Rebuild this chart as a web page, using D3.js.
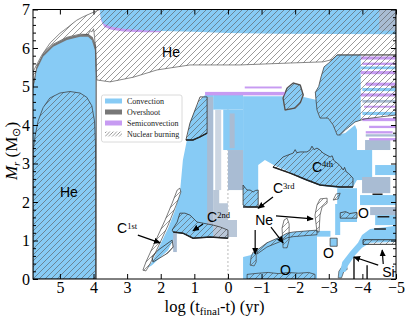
<!DOCTYPE html>
<html><head><meta charset="utf-8">
<script src="https://cdn.jsdelivr.net/npm/d3@7/dist/d3.min.js"></script>
<style>html,body{margin:0;padding:0;background:#fff}svg{display:block}</style>
</head><body>
<svg id="chart" width="409" height="318"></svg>
<script>
// ================= DATA (x = log(t_final - t) [yr], y = M_r [Msun]) =================
const xTicks = [5,4,3,2,1,0,-1,-2,-3,-4,-5];
const yTicks = [0,1,2,3,4,5,6,7];
const yMinor = d3.range(1,35).map(i=>i/5).filter(v=>Math.abs(v-Math.round(v))>1e-6);

// convective regions
const heCoreOver = [[5.8,5.0],[5.69,5.5],[5.5,5.84],[5.2,6.09],[4.79,6.27],[4.4,6.35],[4.16,6.37],[4.02,6.28],[3.92,6.05],[3.9,5.6],[3.9,0],[5.8,0]];
const heCoreConv = [[5.8,4.9],[5.69,5.43],[5.5,5.77],[5.2,6.03],[4.79,6.21],[4.4,6.29],[4.16,6.29],[4.05,6.2],[3.96,5.95],[3.94,5.5],[3.94,0],[5.8,0]];
const topSemi = [[3.81,7.0],[3.77,6.7],[3.68,6.55],[3.5,6.48],[3.12,6.43],[2.5,6.41],[2.0,6.41],[2.0,6.45],[3.5,6.6],[3.81,6.9]];
const topConv = [[3.81,7.0],[3.79,6.8],[3.72,6.64],[3.5,6.56],[3.12,6.5],[2.5,6.46],[2.0,6.44],[1.0,6.42],[0,6.39],[-1.5,6.37],[-5,6.36],[-5,7]];
const rightConv = [[-3.25,5.82],[-3.0,5.61],[-2.86,5.51],[-2.77,5.25],[-2.7,5.0],[-2.6,4.85],[-2.62,4.65],[-2.65,4.39],[-2.74,4.18],[-2.98,4.18],[-3.13,4.0],[-3.25,3.74],[-3.34,3.74],[-3.49,3.87],[-3.78,4.08],[-3.95,4.12],[-3.95,5.82]];
const shellConvA = [[2.38,0.29],[2.26,0.44],[2.02,0.88],[1.78,1.32],[1.57,1.79],[1.43,2.23],[1.34,3.09],[1.22,3.61],[1.13,4.05],[0.98,4.39],[0.83,4.65],[0.68,4.78],[0.44,4.78],[0.44,1.40],[0.23,1.35],[0,1.27],[0,1.06],[0.53,1.09],[1.04,1.06],[1.34,1.17],[1.54,1.19],[1.63,1.01],[1.78,0.75],[2.02,0.55],[2.26,0.36]];
const shellConvB = [[-0.45,4.75],[-2.15,4.75],[-2.65,4.65],[-2.65,4.39],[-2.74,4.18],[-2.98,4.18],[-3.13,4.0],[-3.25,3.74],[-3.49,3.79],[-3.78,4.0],[-3.84,3.87],[-3.84,2.57],[-3.72,2.39],[-3.34,2.36],[-2.74,2.42],[-2.15,2.62],[-1.76,2.81],[-1.40,2.94],[-1.10,3.09],[-0.90,2.96],[-0.90,1.87],[-0.45,1.87]];
const oConv = [[-0.45,0],[-0.45,0.57],[-0.66,0.62],[-0.87,0.75],[-1.16,0.94],[-1.55,1.09],[-1.76,1.19],[-1.94,1.22],[-2.65,1.27],[-2.65,0]];
const o2Conv = [[-3.25,2.36],[-3.84,2.36],[-3.84,1.48],[-3.34,1.48],[-3.34,1.14],[-3.19,1.14],[-3.19,1.95],[-3.25,1.95]];
const o3Conv = [[-3.04,1.06],[-3.25,1.06],[-3.25,0.85],[-3.04,0.85]];
const o4Conv = [[-3.28,0.03],[-3.3,0.2],[-3.4,0.33],[-3.52,0.36],[-3.55,0.25],[-3.45,0.2],[-3.38,0.03]];
const siConv = [[-3.34,0.18],[-3.40,0.44],[-3.63,0.70],[-3.87,0.94],[-3.99,1.14],[-4.23,1.30],[-5,1.38],[-5,0.96],[-4.23,0.94],[-3.99,0.81],[-3.78,0.62],[-3.58,0.36],[-3.49,0.18]];
const midBurnSmall = [[-1.70,4.39],[-1.64,4.70],[-1.76,4.96],[-1.94,5.09],[-2.15,5.04],[-2.24,4.78],[-2.15,4.57],[-2.0,4.44]];
// rectangles [t0, t1, m0, m1]
const convRects = [[0.44,-0.45,4.40,4.78],[0.14,-0.45,3.35,4.40],[-2.65,-3.05,1.10,1.25],[-4.38,-5,2.70,2.96],[-3.93,-5,1.92,2.18],[-4.38,-5,1.40,1.66],[-3.84,-4.29,2.57,3.35],[-3.95,-5,5.45,5.52],[-4.0,-5,4.88,4.96],[-4.0,-5,4.26,4.34]];
const overLightRects = [[0.62,0.44,1.40,4.73],[0.0,-0.45,2.31,3.35],[1.63,1.52,0.70,1.20],[-4.08,-4.83,3.35,3.61],[-3.99,-4.83,2.23,2.65],[-4.23,-5,1.66,1.87],[-4.5,-5,6.45,7.0],[-4.0,-5,4.58,4.65],[-4.1,-5,3.70,3.76],[-0.05,-0.2,3.4,4.3]];
const overPaleRects = [[0.38,0.2,2.31,4.39]];
const c2Over = [[0.44,2.31],[0.26,2.31],[0.26,1.97],[0.0,1.97],[0.0,1.53],[-0.27,1.53],[-0.27,1.09],[0.44,1.09]];
const semiRects = [[0.68,-1.7,4.77,4.86],[-0.5,-1.6,4.95,5.0],[-3.95,-5,5.70,5.78],[-4.0,-5,5.56,5.62],[-3.95,-5,5.32,5.40],[-4.1,-5,5.02,5.10],[-3.95,-5,4.74,4.82],[-4.05,-5,4.45,4.50],[-4.0,-5,4.10,4.18],[-4.2,-5,3.92,3.98],[-4.1,-4.9,3.78,3.84],[-4.2,-5,3.60,3.66]];

// nuclear burning regions
const heCoreBurn = [[5.8,3.3],[5.74,3.7],[5.65,4.1],[5.5,4.45],[5.3,4.7],[5.0,4.83],[4.7,4.87],[4.4,4.83],[4.2,4.72],[4.05,4.5],[3.97,4.1],[3.94,3.5],[3.94,0],[5.8,0]];
const heShellBurn = [[5.8,5.38],[5.55,5.8],[5.29,6.13],[5.0,6.38],[4.79,6.52],[4.5,6.72],[4.31,6.81],[4.0,6.93],[3.81,7.0],[-5,7],[-5,5.82],[-3.25,5.82],[-3.1,5.7],[-2.83,5.64],[-1.85,5.61],[-0.36,5.56],[1.13,5.56],[2.11,5.43],[2.82,5.24],[3.51,5.12],[3.9,5.17],[3.93,5.5],[3.94,5.95],[3.97,6.3],[4.0,6.5],[4.05,6.42],[4.1,6.45],[4.16,6.35],[4.4,6.36],[4.79,6.28],[5.2,6.1],[5.5,5.84],[5.69,5.5],[5.8,5.0]];
const rightBurn = [[-3.25,5.82],[-3.0,5.61],[-2.86,5.51],[-2.77,5.25],[-2.7,5.0],[-2.6,4.85],[-2.62,4.65],[-2.65,4.39],[-2.74,4.18],[-2.98,4.18],[-3.13,4.0],[-3.25,3.74],[-3.34,3.74],[-3.49,3.87],[-3.78,4.08],[-4.08,4.16],[-5,4.26],[-5,5.82]];
const cTopBurn = [[0.83,4.73],[0.98,4.39],[1.13,4.05],[1.25,3.61],[1.04,3.61],[0.83,3.69],[0.62,3.79],[0.62,4.73]];
const c1Sliver = [[2.53,0.23],[2.44,0.44],[2.17,0.96],[1.87,1.53],[1.66,1.97],[1.51,2.31],[1.43,2.36],[1.40,2.26],[1.54,1.92],[1.78,1.40],[2.08,0.83],[2.32,0.39],[2.44,0.21]];
const c1Burn = [[2.26,0.57],[2.08,0.75],[1.87,0.88],[1.66,1.01],[1.63,0.83],[1.78,0.68],[2.02,0.55],[2.23,0.44]];
const c2Burn = [[1.66,1.27],[1.51,1.48],[1.43,1.71],[1.28,1.71],[1.13,1.66],[0.92,1.48],[0.74,1.45],[0.44,1.40],[0.23,1.35],[0,1.27],[0,1.06],[0.53,1.09],[1.04,1.06],[1.34,1.19],[1.63,1.22]];
const c3Burn = [[-0.45,2.44],[-0.52,2.36],[-0.57,2.31],[-0.66,2.31],[-0.75,2.26],[-0.82,2.3],[-0.90,2.31],[-0.90,1.87],[-0.57,1.87],[-0.45,1.92]];
const c4Burn = [[-1.34,2.91],[-1.55,3.09],[-1.64,3.17],[-1.79,3.22],[-1.94,3.27],[-2.0,3.36],[-2.05,3.28],[-2.15,3.30],[-2.35,3.30],[-2.44,3.35],[-2.5,3.45],[-2.56,3.36],[-2.65,3.40],[-2.74,3.35],[-2.83,3.27],[-3.04,3.17],[-3.1,3.2],[-3.15,3.08],[-3.25,3.01],[-3.34,2.94],[-3.43,2.83],[-3.47,2.9],[-3.52,2.78],[-3.58,2.75],[-3.72,2.62],[-3.72,2.39],[-3.34,2.39],[-2.74,2.44],[-2.35,2.57],[-1.85,2.75]];
const neA = [[-0.66,0.36],[-0.69,0.57],[-0.75,0.70],[-0.84,0.68],[-0.84,0.44],[-0.78,0.34]];
const neB = [[-1.64,0.81],[-1.61,1.32],[-1.67,1.53],[-1.76,1.58],[-1.82,1.43],[-1.82,1.01],[-1.76,0.81]];
const neC = [[-2.65,1.22],[-2.59,1.66],[-2.65,1.92],[-2.74,2.08],[-2.95,2.10],[-2.95,1.97],[-2.80,1.87],[-2.74,1.66],[-2.71,1.22]];
const neD = [[-3.13,2.05],[-3.22,2.21],[-3.34,2.23],[-3.28,2.08]];
const oTopBurn = [[-0.87,0.75],[-1.16,0.94],[-1.55,1.09],[-1.76,1.19],[-1.94,1.22],[-2.65,1.27],[-2.65,1.15],[-1.94,1.1],[-1.76,1.07],[-1.55,0.97],[-1.16,0.83],[-0.87,0.65]];
const oBotBurn = [[-0.57,0],[-0.57,0.12],[-0.9,0.15],[-1.2,0.17],[-1.5,0.14],[-1.8,0.17],[-2.1,0.15],[-2.4,0.17],[-2.59,0.12],[-2.59,0]];
const o2Burn = [[-3.34,1.72],[-3.5,1.75],[-3.62,1.70],[-3.84,1.73],[-3.84,1.58],[-3.34,1.58]];
const siBurn = [[-4.02,1.02],[-5,1.02],[-5,0.9],[-4.02,0.9]];
// heavy boundary lines
const darkLines = [
  [[1.63,1.22],[1.34,1.19],[1.04,1.06],[0.53,1.09],[0,1.06]],
  [[-0.45,1.87],[-0.9,1.87]],
  [[-1.34,2.91],[-1.85,2.75],[-2.35,2.57],[-2.74,2.44],[-3.34,2.39],[-3.72,2.39]],
  [[1.25,3.61],[1.04,3.61],[0.83,3.69],[0.62,3.79]],
  [[-3.75,0],[-3.75,0.57]],[[-4.14,0],[-4.14,0.36]],
  [[-4.35,1.30],[-4.7,1.30]],[[-4.45,1.62],[-4.8,1.62]],[[-4.3,2.2],[-4.6,2.2]]
];
// annotations
const regionLabels = [
  {text:'He',t:1.96,m:5.77},{text:'He',t:5.0,m:2.13},
  {text:'C',sup:'1st',t:3.3,m:1.19},{text:'C',sup:'2nd',t:0.62,m:1.48},
  {text:'C',sup:'3rd',t:-1.34,m:2.23},{text:'C',sup:'4th',t:-2.50,m:2.78},
  {text:'Ne',t:-0.81,m:1.40},{text:'O',t:-3.87,m:1.58},{text:'O',t:-2.83,m:0.55},
  {text:'O',t:-1.55,m:0.10},{text:'Si',t:-4.59,m:0.05}
];
const arrows = [[2.68,1.14,2.02,0.94],[0.74,1.43,1.04,1.25],[-1.34,2.13,-0.90,1.84],[-1.43,1.64,-2.53,1.56],[-0.81,1.27,-0.81,0.65],[-1.28,1.35,-1.64,0.94],[-4.47,0.36,-3.75,0.57],[-4.62,0.39,-4.59,0.75]];
const legendItems = [['Convection','conv'],['Overshoot','over'],['Semiconvection','semi'],['Nuclear burning','burn']];

// ================= STYLE =================
const CONV='#87cbf5', OVER='#777777', SEMI='#c79bf2', LOVER='#a9bcd3', PALE='#ccd6e2';
const L=33, R=396, T=9.5, B=279;
const x=d3.scaleLinear().domain([5.8,-5]).range([L,R]);
const y=d3.scaleLinear().domain([0,7]).range([B,T]);

const svg=d3.select('#chart');
const defs=svg.append('defs');
defs.append('clipPath').attr('id','clip').append('rect').attr('x',L).attr('y',T).attr('width',R-L).attr('height',B-T);
const pat=defs.append('pattern').attr('id','hatch').attr('patternUnits','userSpaceOnUse').attr('width',6).attr('height',6);
pat.append('path').attr('d','M-1,1 l2,-2 M0,6 l6,-6 M5,7 l2,-2').attr('stroke','#555').attr('stroke-width',0.6);
const patL=defs.append('pattern').attr('id','hatchL').attr('patternUnits','userSpaceOnUse').attr('width',3.5).attr('height',3.5);
patL.append('path').attr('d','M-1,1 l2,-2 M0,3.5 l3.5,-3.5 M2.5,4.5 l2,-2').attr('stroke','#555').attr('stroke-width',0.6);
defs.append('marker').attr('id','arr').attr('viewBox','0 0 8 8').attr('refX',7).attr('refY',4)
  .attr('markerWidth',7).attr('markerHeight',7).attr('markerUnits','userSpaceOnUse').attr('orient','auto')
  .append('path').attr('d','M0,0.5 L8,4 L0,7.5 z').attr('fill','#000');

const g=svg.append('g').attr('clip-path','url(#clip)');
const line=d3.line().x(d=>x(d[0])).y(d=>y(d[1]));
function poly(pts,fill,stroke,sw){g.append('path').attr('d',line(pts)+'Z').attr('fill',fill).attr('stroke',stroke||'none').attr('stroke-width',sw||0).attr('stroke-linejoin','round');}
function rects(list,fill){list.forEach(r=>{const x0=Math.min(x(r[0]),x(r[1])),x1=Math.max(x(r[0]),x(r[1]));
  g.append('rect').attr('x',x0).attr('width',x1-x0).attr('y',y(r[3])).attr('height',y(r[2])-y(r[3])).attr('fill',fill);});}

// dashed line at t=0
g.append('line').attr('x1',x(0)).attr('x2',x(0)).attr('y1',y(0)).attr('y2',y(4.75)).attr('stroke','#aaa').attr('stroke-width',0.8).attr('stroke-dasharray','2,2');

// convection + overshoot
poly(heCoreOver,OVER);
poly(heCoreConv,CONV);
poly(topSemi,SEMI);
poly(topConv,CONV);
poly(shellConvA,CONV);
poly(shellConvB,CONV);
poly(rightConv,CONV);
rects(convRects,CONV);
rects(overLightRects,LOVER);
rects(overPaleRects,PALE);
poly(c2Over,'#b9c7d8');
poly(oConv,CONV);
poly(o2Conv,CONV);
poly(o3Conv,CONV,'#333',0.7);
poly(o4Conv,CONV,'#333',0.6);
poly(siConv,CONV);
poly(midBurnSmall,CONV,'#888',1.5);
rects(semiRects,SEMI);

// nuclear burning (hatched)
poly(heCoreBurn,'url(#hatch)','#333',0.7);
poly(heShellBurn,'url(#hatch)','#555',0.7);
poly(rightBurn,'url(#hatch)','#444',0.8);
poly(midBurnSmall,'url(#hatch)','#333',0.7);
poly(cTopBurn,'url(#hatch)','#333',0.8);
poly(c1Sliver,'#fff','none');
poly(c1Sliver,'url(#hatch)','#444',0.7);
poly(c1Burn,'url(#hatch)','#333',0.8);
poly(c2Burn,'url(#hatch)','#333',0.8);
poly(c3Burn,'url(#hatch)','#333',0.8);
poly(c4Burn,'url(#hatch)','#333',0.8);
[neA,neB,neC,neD].forEach(p=>poly(p,'url(#hatch)','#444',0.7));
poly(oTopBurn,'url(#hatch)','#333',0.7);
poly(oBotBurn,'url(#hatch)','#333',0.7);
poly(o2Burn,'url(#hatch)','#333',0.8);
poly(siBurn,'url(#hatch)','#222',0.9);
darkLines.forEach(p=>g.append('path').attr('d',line(p)).attr('fill','none').attr('stroke','#222').attr('stroke-width',1.5));

// annotations
const lab=svg.append('g');
regionLabels.forEach(d=>{
  const t=lab.append('text').attr('x',x(d.t)).attr('y',y(d.m)).attr('font-family','Liberation Sans, Arial, sans-serif').attr('font-size',14).attr('fill','#000').text(d.text);
  if(d.sup) t.append('tspan').attr('font-family','Liberation Serif, Times New Roman, serif').attr('font-size',8.5).attr('dy',-4.5).text(d.sup);
});
arrows.forEach(a=>lab.append('line').attr('x1',x(a[0])).attr('y1',y(a[1])).attr('x2',x(a[2])).attr('y2',y(a[3]))
  .attr('stroke','#000').attr('stroke-width',1.2).attr('marker-end','url(#arr)'));

// legend
const lg=svg.append('g').attr('font-family','Liberation Serif, Times New Roman, serif').attr('font-size',8);
lg.append('rect').attr('x',101.5).attr('y',95).attr('width',80.5).attr('height',47).attr('rx',2).attr('fill','#fff').attr('stroke','#d0d0d0').attr('stroke-width',0.8);
legendItems.forEach((d,i)=>{
  const cy=101+i*11;
  const fill=d[1]==='conv'?CONV:d[1]==='over'?OVER:d[1]==='semi'?SEMI:'url(#hatchL)';
  lg.append('rect').attr('x',105).attr('y',cy-2.5).attr('width',17).attr('height',5).attr('fill',fill);
  lg.append('text').attr('x',127).attr('y',cy+2.5).attr('fill','#222').text(d[0]);
});

// axes
function styleAxis(sel){sel.select('.domain').remove();sel.selectAll('line').attr('stroke','#000');
  sel.attr('font-family','Liberation Serif, Times New Roman, serif').attr('font-size',16);sel.selectAll('text').attr('fill','#000');}
svg.append('g').attr('transform',`translate(0,${B})`).call(d3.axisBottom(x).tickValues(xTicks).tickSize(-5).tickPadding(3)).call(styleAxis);
svg.append('g').attr('transform',`translate(0,${T})`).call(d3.axisTop(x).tickValues(xTicks).tickSize(-5).tickFormat('')).call(styleAxis);
svg.append('g').attr('transform',`translate(${L},0)`).call(d3.axisLeft(y).tickValues(yTicks).tickSize(-5).tickPadding(3).tickFormat(d3.format('d'))).call(styleAxis);
svg.append('g').attr('transform',`translate(${L},0)`).call(d3.axisLeft(y).tickValues(yMinor).tickSize(-3).tickFormat('')).call(styleAxis);
svg.append('g').attr('transform',`translate(${R},0)`).call(d3.axisRight(y).tickValues(yTicks).tickSize(-5).tickFormat('')).call(styleAxis);
svg.append('g').attr('transform',`translate(${R},0)`).call(d3.axisRight(y).tickValues(yMinor).tickSize(-3).tickFormat('')).call(styleAxis);
svg.append('rect').attr('x',L).attr('y',T).attr('width',R-L).attr('height',B-T).attr('fill','none').attr('stroke','#000').attr('stroke-width',1);

// axis titles
const xt=svg.append('text').attr('x',214.5).attr('y',312).attr('text-anchor','middle').attr('font-family','Liberation Serif, Times New Roman, serif').attr('font-size',16.5).attr('fill','#000');
xt.append('tspan').text('log (t');
xt.append('tspan').attr('font-size',11).attr('dy',3).text('final');
xt.append('tspan').attr('dy',-3).text('-t) (yr)');
const yt=svg.append('text').attr('transform','translate(17,151) rotate(-90)').attr('text-anchor','middle').attr('font-family','Liberation Serif, Times New Roman, serif').attr('font-size',17).attr('fill','#000');
yt.append('tspan').attr('font-style','italic').text('M');
yt.append('tspan').attr('font-style','italic').attr('font-size',11).attr('dy',3).text('r');
yt.append('tspan').attr('dy',-3).text(' (M');
yt.append('tspan').attr('font-size',11).attr('dy',3).text('⊙');
yt.append('tspan').attr('dy',-3).text(')');
</script>
</body></html>
